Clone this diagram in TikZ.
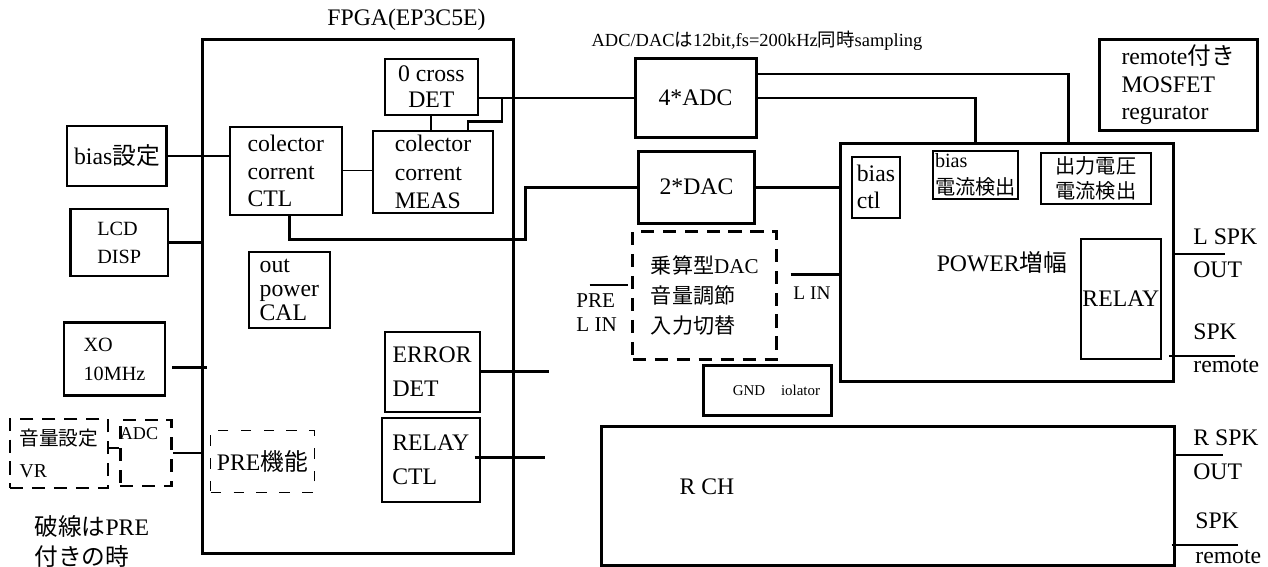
\documentclass[tikz,border=0pt]{standalone}
\usepackage{fontspec}
\setmainfont{Liberation Serif}
\newfontfamily\jpfont{Noto Sans CJK JP}
\newcommand\jp[1]{{\jpfont #1}}
\newcommand\px{0.02cm}

\tikzset{
  fs/.style 2 args={font=\fontsize{#1}{#2}\selectfont},
  sz/.style 2 args={minimum width=#1*\px, minimum height=#2*\px},
  blk/.style={draw, line width=1.7pt, inner sep=2pt, fs={13.5}{15.5}},
  sub/.style={draw, line width=1.1pt, inner sep=2pt, fs={13.5}{15.5}},
  dblk/.style={draw, line width=1.7pt, dash pattern=on 7.5pt off 5pt, inner sep=2pt},
  dthin/.style={draw, line width=0.6pt, dash pattern=on 6pt off 7pt, inner sep=2pt},
  txt/.style={inner sep=0pt, fs={13.5}{15.5}},
  wire/.style={line width=1.7pt},
  midwire/.style={line width=1.2pt},
  thinwire/.style={line width=0.6pt},
}

\begin{document}
\begin{tikzpicture}[x=0.02cm, y=-0.02cm]
    \useasboundingbox (0,0) rectangle (1268,567);

    % FPGA and its inner blocks
    \node[blk, sz={311}{513.7}] (fpga) at (358,296.2) {};
    \node[txt] (fpganame) at (406.5,20) {FPGA(EP3C5E)};
    \node[sub, sz={93.4}{56}, align=center, fs={13.5}{14.8}] (zero) at (431.3,87) {0 cross\\DET};
    \node[sub, sz={120}{82}, align=left, fs={13.5}{16.2}] (meas) at (433,172) {colector\\corrent\\MEAS};
    \node[sub, sz={112.2}{88.3}, align=left, fs={13.5}{15.4}] (ctl) at (285.7,170.9) {colector\\corrent\\CTL};
    \node[sub, sz={80.6}{75.7}, align=left, fs={13.5}{13.5}] (opc) at (289.3,289.9) {out\\power\\CAL};
    \node[sub, sz={95}{80}, align=left, fs={13.5}{19.4}] (err) at (432.1,371.7) {ERROR\\DET};
    \node[sub, sz={97.6}{83.7}, align=left, fs={13.5}{19.4}] (rctl) at (430.8,459.9) {RELAY\\CTL};
    \node[dthin, sz={103.3}{62.3}, fs={13.5}{15.5}] (pre) at (262.4,461.2) {PRE\jp{機能}};

    % left side
    \node[blk, sz={99.8}{60}] (bias) at (116.9,156) {bias\jp{設定}};
    \node[blk, sz={97.6}{67}, align=left, fs={11.5}{16}] (lcd) at (119.2,242.5) {LCD\\DISP};
    \node[blk, sz={101}{73}, align=left, fs={11.5}{16.2}] (xo) at (114.5,359.2) {XO\\10MHz};
    \node[dblk, sz={98}{69}, align=left, fs={11.2}{18}] (vr) at (59,453.5) {\jp{音量設定}\\VR};
    \node[dblk, sz={51.7}{66},
      label={[txt, fs={10.3}{12}, anchor=north west, shift={(1,9)}]north west:ADC}] (adcp) at (145.9,453) {};
    \node[txt, align=left, anchor=west] (note) at (34,541.7) {\jp{破線は}PRE\\[1.5pt]\jp{付きの時}};

    % converters
    \node[txt, fs={10.5}{12}] (cap) at (757,40.7) {ADC/DAC\jp{は}12bit,fs=200kHz\jp{同時}sampling};
    \node[blk, sz={121}{79.4}] (adc4) at (695.5,98) {4*ADC};
    \node[blk, sz={116.1}{72.3}] (dac2) at (696.5,187.2) {2*DAC};
    \node[dblk, sz={144}{128.3}, align=left, fs={12}{17}] (mult) at (704.8,295.2) {\jp{乗算型}DAC\\\jp{音量調節}\\\jp{入力切替}};
    \node[blk, sz={127.6}{50.7}, fs={8.5}{10}] (gnd) at (767.7,390.4) {\hspace{10pt}GND\hspace{9pt}iolator};
    \node[txt, fs={12}{13.7}, align=left, anchor=west] (prelin) at (576,313) {PRE\\L IN};
    \node[txt, fs={11}{12}] (linlbl) at (812,292.7) {L IN};

    % power amp
    \node[blk, sz={157.6}{90.7}, align=left, fs={13.5}{15.6}] (reg) at (1178.2,84.7) {remote\jp{付き}\\MOSFET\\regurator};
    \node[blk, sz={332.9}{237.7}] (power) at (1007.3,262.2) {};
    \node[txt] (powername) at (1002,262.3) {POWER\jp{増幅}};
    \node[sub, sz={47.8}{61}, align=left, inner sep=1pt, fs={13.5}{15.2}] (bctl) at (875.9,187.2) {bias\\ctl};
    \node[sub, sz={85.3}{48}, align=left, inner sep=1pt, fs={11.5}{15.2}] (bcur) at (975.4,175) {bias\\\jp{電流検出}};
    \node[sub, sz={110.5}{47}, align=left, fs={11.5}{14.2}] (ocur) at (1095.8,178.5) {\jp{出力電圧}\\\jp{電流検出}};
    \node[sub, sz={79.7}{120}, inner sep=0.5pt] (relay) at (1120.9,299) {RELAY};
    \node[blk, sz={573.3}{138.3}] (rch) at (888,495.9) {};
    \node[txt] (rchname) at (707,486.7) {R CH};

    \node[txt, anchor=west] (lspk) at (1193,236.7) {L SPK};
    \node[txt, anchor=west] (lout) at (1193,270) {OUT};
    \node[txt, anchor=west] (lspk2) at (1193,331.7) {SPK};
    \node[txt, anchor=west] (lrem) at (1193,366) {remote};
    \node[txt, anchor=west] (rspk) at (1193,437.3) {R SPK};
    \node[txt, anchor=west] (rout) at (1193,471.7) {OUT};
    \node[txt, anchor=west] (rspk2) at (1195,520.7) {SPK};
    \node[txt, anchor=west] (rrem) at (1195,556.7) {remote};

    % free ends and bends
    \coordinate (jct) at (502,98);
    \coordinate (jog) at (525.7,239.3);
    \coordinate (errout) at (549,371.7);
    \coordinate (rctlout) at (545,457.7);
    \coordinate (vdet) at (1068.3,143.3);
    \coordinate (lin) at (790.7,274.3);
    \coordinate (prein) at (589.7,285);
    \coordinate (lspkout) at (1224.8,254.3);
    \coordinate (lremout) at (1235,356);
    \coordinate (rspkout) at (1223.4,455);
    \coordinate (rremout) at (1237.8,545);

    % connections
    \draw[thinwire] (bias.east) -- (bias.east -| ctl.west);
    \draw[thinwire] (ctl.east) -- (ctl.east -| meas.west);
    \draw[midwire] (zero.south) -- (zero.south |- meas.north);
    \draw[wire] (zero.east |- adc4.west) -- (adc4.west);
    \draw[wire] (jct) -- ++(0,23.7) -| ([shift={(35,0)}]meas.north);
    \draw[wire] ([shift={(4,0)}]ctl.south) |- (jog) |- (dac2.west);
    \draw[wire] (lcd.east) -- (lcd.east -| fpga.west);
    \draw[wire] ([shift={(6,8)}]xo.east) -- ([shift={(6,8)}]xo.east -| fpga.west);
    \draw[wire] ([shift={(0,-5.5)}]vr.east) -- ([shift={(0,-5.5)}]vr.east -| adcp.west);
    \draw[wire] (adcp.east) -- (adcp.east -| fpga.west);
    \draw[wire] (err.east) -- (errout);
    \draw[wire] ([shift={(-6,0)}]rctlout -| rctl.east) -- (rctlout);
    \draw[wire] ([shift={(0,-24)}]adc4.east) -| (vdet);
    \draw[wire] (adc4.east) -| (power.north -| bcur.north);
    \draw[wire] (dac2.east) -- (dac2.east -| power.west);
    \draw[wire] (lin) -- (lin -| power.west);
    \draw[wire] (prein) -- ++(38.3,0);
    \draw[midwire] (lspkout -| power.east) -- (lspkout);
    \draw[midwire] ([shift={(-6,0)}]lremout -| power.east) -- (lremout);
    \draw[midwire] (rspkout -| rch.east) -- (rspkout);
    \draw[midwire] ([shift={(-4.6,0)}]rremout -| rch.east) -- (rremout);
\end{tikzpicture}
\end{document}
